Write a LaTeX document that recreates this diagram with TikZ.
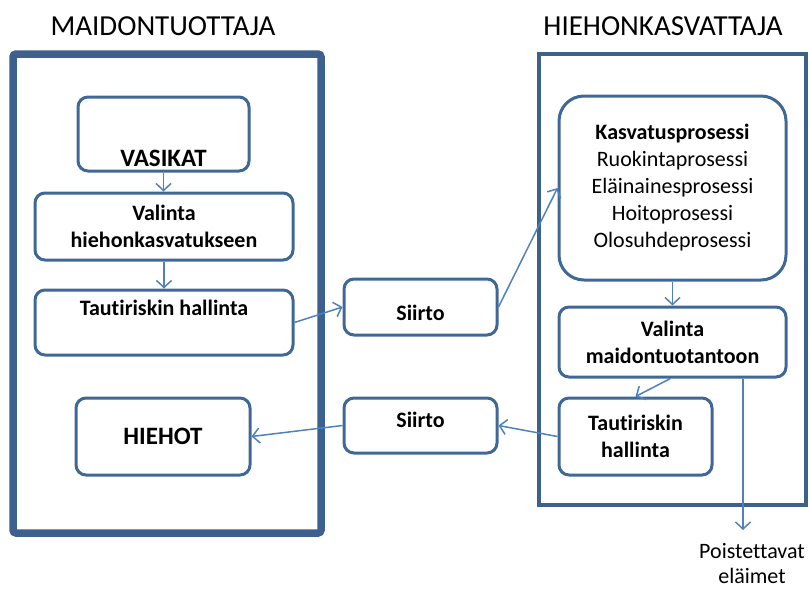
\documentclass[tikz,border=0pt]{standalone}
\usepackage{fontspec}
\setmainfont{Carlito}[Ligatures={NoCommon}]
\usetikzlibrary{arrows.meta}
\definecolor{frameblue}{RGB}{61,96,140}
\definecolor{boxblue}{RGB}{64,104,150}
\definecolor{arrowblue}{RGB}{79,129,189}
% shift a single line of text vertically without changing the node size
\newcommand\liftby[2]{\raisebox{#1}[0pt][0pt]{#2}}
\begin{document}
\begin{tikzpicture}[x=1pt,y=-1pt,
  stagebox/.style={draw=boxblue, line width=3pt, rounded corners=10pt,
    fill=white, inner sep=0pt, align=center,
    font=\bfseries\fontsize{22}{27}\selectfont},
  bigword/.style={font=\bfseries\fontsize{25}{30}\selectfont},
  flow/.style={draw=arrowblue, line width=1.5pt,
    -{Straight Barb[length=7pt,width=15pt]}},
  heading/.style={font=\fontsize{29}{34}\selectfont, inner sep=0pt},
  plain/.style={font=\fontsize{22}{25}\selectfont, align=center, inner sep=0pt}
]
\useasboundingbox (0,0) rectangle (809,589);

% the two farms
\draw[frameblue, line width=7.5pt, rounded corners=3pt] (13,54) rectangle (321,533);
\draw[frameblue, line width=3.5pt] (539,54) rectangle (806,505);
\node[heading] (titleL) at (163,26) {MAIDONTUOTTAJA};
\node[heading] (titleR) at (663,26) {HIEHONKASVATTAJA};

% dairy farm
\node[stagebox, bigword, minimum width=171, minimum height=74] (vasikat) at (163.5,134)
  {\liftby{-32pt}{VASIKAT}};
\node[stagebox, minimum width=258, minimum height=67] (valinta1) at (164,226.5)
  {Valinta\\hiehonkasvatukseen};
\node[stagebox, minimum width=258, minimum height=65] (taut1) at (164,322.5)
  {\liftby{7.5pt}{Tautiriskin hallinta}};
\node[stagebox, bigword, minimum width=174, minimum height=77] (hiehot) at (163,436.5)
  {HIEHOT};

% transfers
\node[stagebox, minimum width=153, minimum height=56] (siirto1) at (420.5,307)
  {\liftby{-13pt}{Siirto}};
\node[stagebox, minimum width=153, minimum height=55] (siirto2) at (420.5,425.5)
  {\liftby{-1.5pt}{Siirto}};

% heifer rearing farm
\node[stagebox, rounded corners=25pt, minimum width=227, minimum height=184] (kasvatus) at (672.5,188)
  {Kasvatusprosessi\\\mdseries Ruokintaprosessi\\\mdseries Eläinainesprosessi\\\mdseries Hoitoprosessi\\\mdseries Olosuhdeprosessi};
\node[stagebox, minimum width=227, minimum height=70] (valinta2) at (672.5,342)
  {Valinta\\maidontuotantoon};
\node[stagebox, minimum width=153, minimum height=77] (taut2) at (635.5,436.5)
  {Tautiriskin\\hallinta};

\coordinate (removed) at (743,530);
\node[plain] (poist) at (752,564) {Poistettavat\\eläimet};

% flows
\draw[flow] (vasikat.south) -- (valinta1.north -| vasikat.south);
\draw[flow] (valinta1.south) -- (taut1.north);
\draw[flow] (taut1.east) -- (siirto1.west);
\draw[flow] (siirto1.east) -- (kasvatus.west);
\draw[flow] (kasvatus.south) -- (valinta2.north);
\draw[flow] ([xshift=-2pt]valinta2.south) -- (taut2.north);
\draw[flow] (valinta2.south -| removed) -- (removed);
\draw[flow] (taut2.west) -- (siirto2.east);
\draw[flow] (siirto2.west) -- (hiehot.east);
\end{tikzpicture}
\end{document}
